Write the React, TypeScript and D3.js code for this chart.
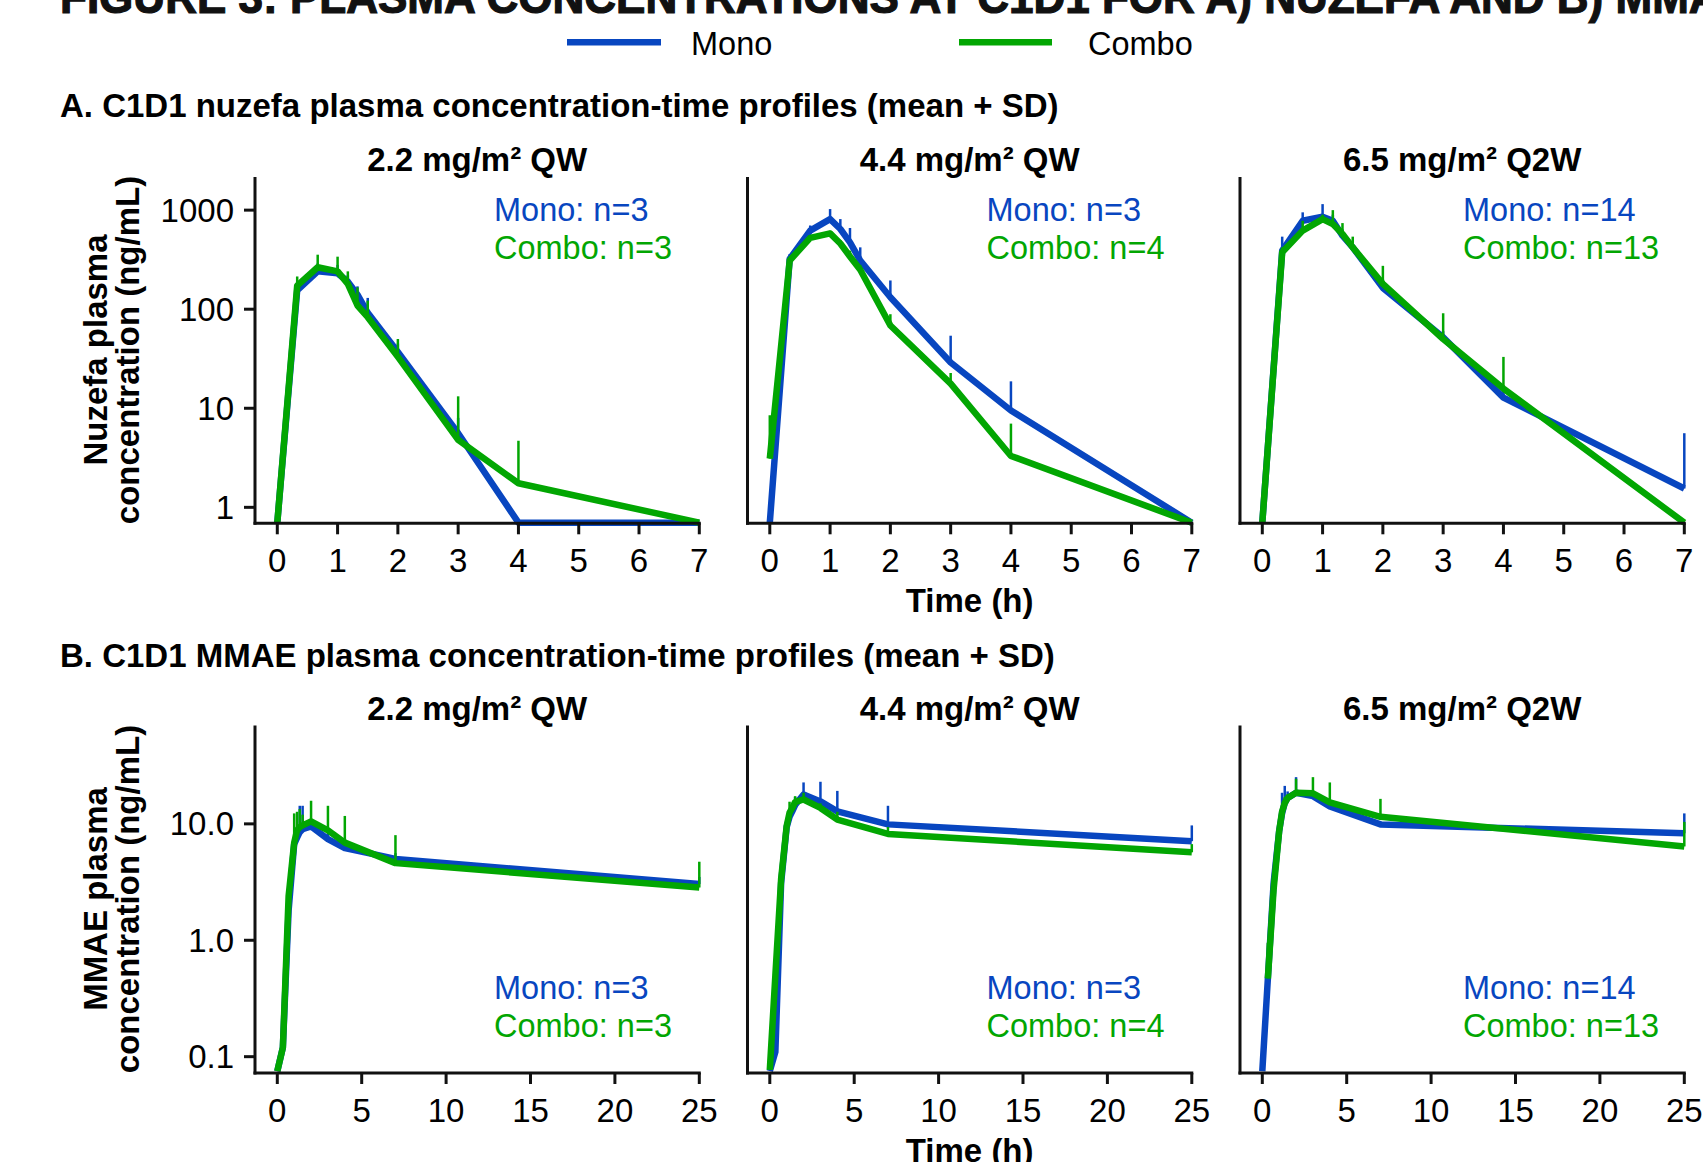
import React from "react";
import * as d3 from "d3";

// sampling times (h)
const nuzefaTimes = [0, 0.33, 0.67, 1, 1.17, 1.33, 1.5, 2, 3, 4, 7];
const mmaeTimes = [0, 0.33, 0.67, 1, 1.17, 1.33, 1.5, 2, 3, 4, 7, 25];

const doseLabels = ["2.2 mg/m² QW", "4.4 mg/m² QW", "6.5 mg/m² Q2W"];
const nMono = [3, 3, 14];
const nCombo = [3, 4, 13];

// A. nuzefa, mean and mean+SD (ng/mL)
const nuzMono = [
  [0.7, 155, 241, 230, 190, 140, 92, 37, 5.6, 0.7, 0.7],
  [0.7, 322, 621, 812, 645, 473, 310, 132, 29, 9.5, 0.7],
  [0.7, 390, 782, 857, 780, 552, 421, 164, 52, 12.8, 1.55],
];
const nuzMonoSD = [
  [NaN, 190, 290, 280, 220, 170, 130, 45, 8, NaN, NaN],
  [NaN, 360, 700, 1025, 812, 660, 421, 195, 54, 18.7, NaN],
  [NaN, 540, 950, 1150, 900, 640, 480, 200, 60, 15, 5.6],
];
const nuzCombo = [
  [0.7, 173, 265, 241, 180, 109, 83, 33, 4.8, 1.75, 0.7],
  [3.1, 310, 525, 582, 460, 340, 250, 68.5, 17.7, 3.3, 0.7],
  [0.7, 375, 621, 812, 723, 575, 421, 180, 50, 15.8, 0.7],
];
const nuzComboSD = [
  [NaN, 214, 355, 339, 241, 166, 122, 50, 13.2, 4.7, NaN],
  [8.5, 340, 560, 620, 500, 390, 280, 89, 22.7, 7.0, NaN],
  [NaN, 420, 780, 900, 1000, 740, 540, 274, 91, 33, NaN],
];

// B. MMAE, mean and mean+SD (ng/mL)
const mmaeMono = [
  [0.075, 0.12, 1.8, 6.7, 7.6, 8.5, 9.0, 9.5, 7.4, 6.2, 5.0, 3.04],
  [0.075, 0.11, 3.1, 9.4, 11.5, 12.8, 14.5, 17.9, 15.6, 12.8, 9.9, 7.1],
  [0.075, 0.47, 3.1, 8.7, 12.3, 15.1, 16.7, 18.5, 17.3, 14.1, 9.9, 8.3],
];
const mmaeMonoSD = [
  [NaN, NaN, NaN, 7.5, 9, 14.3, 14.3, 11, 9, 7.5, 5.6, 3.5],
  [NaN, NaN, NaN, 11, 13, 15, 17, 22.7, 23, 19.2, 14.3, 9.7],
  [NaN, NaN, NaN, 10, 18.5, 21.2, 19, 25.2, 18, 15, 10.5, 12.3],
];
const mmaeCombo = [
  [0.075, 0.12, 2.4, 6.9, 8.8, 9.4, 9.7, 10.5, 8.8, 6.9, 4.6, 2.84],
  [0.077, 0.5, 3.35, 9.6, 12.5, 13.7, 15.4, 16.2, 13.7, 10.9, 8.2, 5.7],
  [NaN, 0.47, 2.74, 8.7, 12.7, 15.1, 16.7, 18.5, 18.3, 15.3, 11.5, 6.4],
];
const mmaeComboSD = [
  [NaN, NaN, NaN, 12.3, 12.7, 13.4, 12, 15.8, 14.3, 11.7, 8.0, 4.73],
  [NaN, NaN, NaN, 11, 15.5, 15, 17.3, 18.5, 15, 12.7, 9.4, 6.7],
  [NaN, 0.95, NaN, 10, 14, 17, 18, 24.4, 25.2, 22.7, 16.4, 10.4],
];

const nuzYTicks = [1, 10, 100, 1000];
const mmaeYTicks = [0.1, 1, 10];
const nuzXTicks = [0, 1, 2, 3, 4, 5, 6, 7];
const mmaeXTicks = [0, 5, 10, 15, 20, 25];

const BLUE = "#0846c0";
const GREEN = "#02a602";
const INK = "#111";
const FONT = "'Liberation Sans', Arial, Helvetica, sans-serif";

const W = 1703;
const H = 1162;
const panelLeft = [255, 747.5, 1240];

type PanelProps = {
  i: number;
  top: number;
  bottom: number;
  times: number[];
  xMax: number;
  xTicks: number[];
  yDomain: [number, number];
  yTicks: number[];
  yFmt: (v: number) => string;
  mono: number[];
  monoSD: number[];
  combo: number[];
  comboSD: number[];
  nLabelY: number;
  showX: boolean;
};

function Series({ times, vals, sd, x, y, color }: any) {
  const pts = times.map((t: number, k: number) => ({ t, v: vals[k], s: sd[k] }));
  const line = d3
    .line<any>()
    .defined((d) => !isNaN(d.v))
    .x((d) => x(d.t))
    .y((d) => y(d.v));
  return (
    <g>
      <path d={line(pts) || ""} fill="none" stroke={color} strokeWidth={6.5} strokeLinejoin="round" />
      {pts
        .filter((d: any) => !isNaN(d.s) && !isNaN(d.v))
        .map((d: any, k: number) => (
          <line key={k} x1={x(d.t)} x2={x(d.t)} y1={y(d.v)} y2={y(d.s)} stroke={color} strokeWidth={2.5} />
        ))}
    </g>
  );
}

function Panel(p: PanelProps) {
  const left = panelLeft[p.i];
  const x = d3.scaleLinear().domain([0, p.xMax]).range([left + 22.3, left + 444.3]);
  const y = d3.scaleLog().domain(p.yDomain).range([p.bottom, p.top]);
  const labelX = left + (p.i === 2 ? 223 : 239);
  return (
    <g>
      <text x={(left + x(p.xMax)) / 2} y={p.top - 6} textAnchor="middle" fontWeight="bold" fontSize={33}>
        {doseLabels[p.i]}
      </text>
      <Series times={p.times} vals={p.mono} sd={p.monoSD} x={x} y={y} color={BLUE} />
      <Series times={p.times} vals={p.combo} sd={p.comboSD} x={x} y={y} color={GREEN} />
      <line x1={left} x2={left} y1={p.top} y2={p.bottom + 1.5} stroke={INK} strokeWidth={3} />
      <line x1={left - 1.5} x2={x(p.xMax) + 1.5} y1={p.bottom} y2={p.bottom} stroke={INK} strokeWidth={3} />
      {p.xTicks.map((t) => (
        <g key={t}>
          <line x1={x(t)} x2={x(t)} y1={p.bottom} y2={p.bottom + 11} stroke={INK} strokeWidth={3} />
          <text x={x(t)} y={p.bottom + 49} textAnchor="middle" fontSize={33}>
            {t}
          </text>
        </g>
      ))}
      {p.i === 0 &&
        p.yTicks.map((v) => (
          <g key={v}>
            <line x1={left - 11} x2={left} y1={y(v)} y2={y(v)} stroke={INK} strokeWidth={3} />
            <text x={left - 21} y={y(v) + 11.5} textAnchor="end" fontSize={33}>
              {p.yFmt(v)}
            </text>
          </g>
        ))}
      <text x={labelX} y={p.nLabelY} fill={BLUE} fontSize={32.5}>
        {`Mono: n=${nMono[p.i]}`}
      </text>
      <text x={labelX} y={p.nLabelY + 38} fill={GREEN} fontSize={32.5}>
        {`Combo: n=${nCombo[p.i]}`}
      </text>
      {p.showX && p.i === 1 && (
        <text x={(left + x(p.xMax)) / 2} y={p.bottom + 89} textAnchor="middle" fontWeight="bold" fontSize={33}>
          Time (h)
        </text>
      )}
    </g>
  );
}

function YLabel({ cy, lines }: { cy: number; lines: string[] }) {
  return (
    <g fontWeight="bold" fontSize={33}>
      {lines.map((s, k) => (
        <text key={k} transform={`translate(${106.5 + k * 32.5},${cy}) rotate(-90)`} textAnchor="middle">
          {s}
        </text>
      ))}
    </g>
  );
}

export default function App() {
  const rows = [0, 1, 2];
  return (
    <svg
      width={W}
      height={H}
      viewBox={`0 0 ${W} ${H}`}
      style={{ position: "absolute", left: 0, top: 0, background: "#fff", fontFamily: FONT }}
    >
      <rect width={W} height={H} fill="#fff" />
      {/* page title, cut off at the top edge as in the source */}
      <text
        x={60}
        y={13}
        fontFamily="'Liberation Sans Narrow', 'Liberation Sans', Arial, sans-serif"
        fontWeight="bold"
        fontSize={46}
        textLength={1690}
        lengthAdjust="spacingAndGlyphs"
        fill={INK}
        stroke={INK}
        strokeWidth={1.2}
      >
        FIGURE 3: PLASMA CONCENTRATIONS AT C1D1 FOR A) NUZEFA AND B) MMAE
      </text>

      {/* legend */}
      <line x1={567} x2={661} y1={42.3} y2={42.3} stroke={BLUE} strokeWidth={6.5} />
      <text x={691} y={55} fontSize={32.5}>Mono</text>
      <line x1={959} x2={1052} y1={42.3} y2={42.3} stroke={GREEN} strokeWidth={6.5} />
      <text x={1088} y={55} fontSize={32.5}>Combo</text>

      <text x={60} y={117} fontWeight="bold" fontSize={33}>
        A. C1D1 nuzefa plasma concentration-time profiles (mean + SD)
      </text>
      <YLabel cy={350} lines={["Nuzefa plasma", "concentration (ng/mL)"]} />
      {rows.map((i) => (
        <Panel
          key={"a" + i}
          i={i}
          top={177}
          bottom={523.3}
          times={nuzefaTimes}
          xMax={7}
          xTicks={nuzXTicks}
          yDomain={[0.69, 2160]}
          yTicks={nuzYTicks}
          yFmt={(v) => String(v)}
          mono={nuzMono[i]}
          monoSD={nuzMonoSD[i]}
          combo={nuzCombo[i]}
          comboSD={nuzComboSD[i]}
          nLabelY={221}
          showX={true}
        />
      ))}

      <text x={60} y={667} fontWeight="bold" fontSize={33}>
        B. C1D1 MMAE plasma concentration-time profiles (mean + SD)
      </text>
      <YLabel cy={899} lines={["MMAE plasma", "concentration (ng/mL)"]} />
      {rows.map((i) => (
        <Panel
          key={"b" + i}
          i={i}
          top={725.5}
          bottom={1073}
          times={mmaeTimes}
          xMax={25}
          xTicks={mmaeXTicks}
          yDomain={[0.0724, 70]}
          yTicks={mmaeYTicks}
          yFmt={(v) => v.toFixed(1)}
          mono={mmaeMono[i]}
          monoSD={mmaeMonoSD[i]}
          combo={mmaeCombo[i]}
          comboSD={mmaeComboSD[i]}
          nLabelY={999}
          showX={true}
        />
      ))}
    </svg>
  );
}
